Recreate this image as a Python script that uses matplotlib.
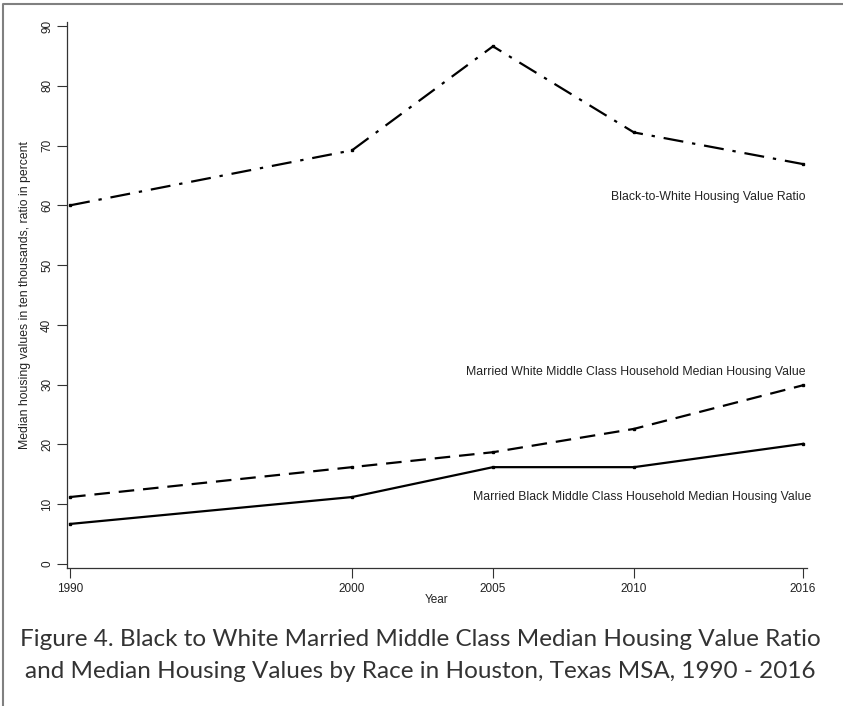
import matplotlib
matplotlib.use("Agg")
from matplotlib import pyplot as plt
from matplotlib.lines import Line2D

# data
years = [1990, 2000, 2005, 2010, 2016]
ratio = [60.0, 69.2, 86.6, 72.2, 66.9]        # black-to-white ratio, percent
white_value = [11.2, 16.2, 18.7, 22.6, 29.9]  # ten thousands
black_value = [6.7, 11.2, 16.2, 16.2, 20.1]   # ten thousands

yticks = [0, 10, 20, 30, 40, 50, 60, 70, 80, 90]

plt.rcParams['font.family'] = ['Liberation Sans', 'DejaVu Sans']

fig = plt.figure(figsize=(8.43, 7.06), dpi=100)
ax = fig.add_axes([67/843, 1-568/706, 740/843, 546/706])

ax.plot(years, ratio, color='black', lw=1.6, dashes=[9, 4, 1.5, 4],
        marker='s', ms=2)
ax.plot(years, white_value, color='black', lw=1.6, dashes=[7, 4],
        marker='s', ms=2)
ax.plot(years, black_value, color='black', lw=1.6, marker='s', ms=2)

ax.text(2016.1, 61.4, 'Black-to-White Housing Value Ratio', ha='right',
        va='center', fontsize=8.8, color='#222222')
ax.text(2016.1, 32.1, 'Married White Middle Class Household Median Housing Value',
        ha='right', va='center', fontsize=8.8, color='#222222')
ax.text(2016.3, 11.2, 'Married Black Middle Class Household Median Housing Value',
        ha='right', va='center', fontsize=8.8, color='#222222')

ax.set_xlim(1989.89, 2016.14)
ax.set_ylim(-0.67, 90.67)
ax.set_xticks(years)
ax.set_yticks(yticks)
ax.set_yticklabels([str(t) for t in yticks], rotation=90, va='center')
ax.tick_params(labelsize=8.5, length=7, width=0.8, color='#333333',
               labelcolor='#222222')
ax.tick_params(axis='x', pad=4)
ax.tick_params(axis='y', pad=3)
for s in ['top', 'right']:
    ax.spines[s].set_visible(False)
for s in ['left', 'bottom']:
    ax.spines[s].set_color('#333333')
    ax.spines[s].set_linewidth(0.9)

ax.set_xlabel('Year', fontsize=8.5, color='#222222', labelpad=-1)
ax.set_ylabel('Median housing values in ten thousands, ratio in percent',
              fontsize=8.8, color='#222222', labelpad=7)

fig.text(420/843, 1-640/706,
         'Figure 4. Black to White Married Middle Class Median Housing Value Ratio',
         ha='center', va='center', fontsize=17.5, color='#333333',
         family=['Lato', 'DejaVu Sans'])
fig.text(420/843, 1-672/706,
         'and Median Housing Values by Race in Houston, Texas MSA, 1990 - 2016',
         ha='center', va='center', fontsize=17.5, color='#333333',
         family=['Lato', 'DejaVu Sans'])

# thin grey frame, only left and top edges visible
fig.add_artist(Line2D([3.5/843, 3.5/843, 1], [0, 1-3.5/706, 1-3.5/706],
                      transform=fig.transFigure, color='#808080', lw=1.5))

fig.savefig('out.png', dpi=100)
